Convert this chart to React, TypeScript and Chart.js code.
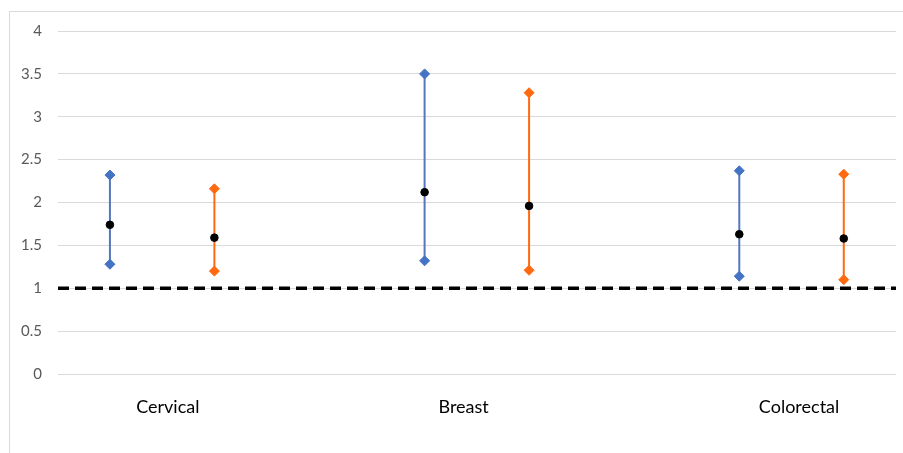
import React, { useEffect, useRef } from "react";
import { Chart, registerables } from "chart.js";

Chart.register(...registerables);

// ---- data ----
const categories = ["Cervical", "Breast", "Colorectal"];
const blueLow = [1.28, 1.32, 1.14];
const blueHigh = [2.32, 3.5, 2.37];
const blueMean = [1.74, 2.12, 1.63];
const orangeLow = [1.2, 1.21, 1.1];
const orangeHigh = [2.16, 3.28, 2.33];
const orangeMean = [1.59, 1.96, 1.58];
const referenceValue = 1;
const yMin = 0;
const yMax = 4;
const yStep = 0.5;

// ---- layout helpers (category-axis placement) ----
const seriesOffset = [-0.166, 0.166];
const labelPositions = [0.018, 0.958, 2.024];
const xMin = -0.331;
const xMax = 2.332;

const BLUE = "#4472C4";
const BLUE_LINE = "#5577BE";
const ORANGE = "#FF6A10";

function rangePoints(low: number[], high: number[], off: number) {
  return low.flatMap((l, i) => [
    { x: i + off, y: l },
    { x: i + off, y: high[i] },
    { x: i + off, y: null as any },
  ]);
}
function meanPoints(mean: number[], off: number) {
  return mean.map((m, i) => ({ x: i + off, y: m }));
}

export default function App() {
  const ref = useRef<HTMLCanvasElement>(null);
  useEffect(() => {
    if (!ref.current) return;
    const chart = new Chart(ref.current, {
      type: "scatter",
      data: {
        datasets: [
          {
            label: "mean",
            data: [...meanPoints(blueMean, seriesOffset[0]), ...meanPoints(orangeMean, seriesOffset[1])],
            showLine: false,
            pointStyle: "circle",
            pointRadius: 3.8,
            pointBackgroundColor: "#000",
            pointBorderColor: "#000",
            pointBorderWidth: 1,
            order: 0,
          },
          {
            label: "blue",
            data: rangePoints(blueLow, blueHigh, seriesOffset[0]),
            showLine: true,
            spanGaps: false,
            borderColor: BLUE_LINE,
            borderWidth: 2,
            pointStyle: "rectRot",
            pointRadius: 5,
            pointBackgroundColor: BLUE,
            pointBorderColor: BLUE,
            pointBorderWidth: 1,
            order: 1,
          },
          {
            label: "orange",
            data: rangePoints(orangeLow, orangeHigh, seriesOffset[1]),
            showLine: true,
            spanGaps: false,
            borderColor: ORANGE,
            borderWidth: 2,
            pointStyle: "rectRot",
            pointRadius: 5,
            pointBackgroundColor: ORANGE,
            pointBorderColor: ORANGE,
            pointBorderWidth: 1,
            order: 1,
          },
          {
            label: "reference",
            data: [
              { x: xMin, y: referenceValue },
              { x: xMax, y: referenceValue },
            ],
            showLine: true,
            borderColor: "#000",
            borderWidth: 3.5,
            borderDash: [11, 6],
            borderCapStyle: "butt",
            pointRadius: 0,
            order: 2,
          },
        ] as any,
      },
      options: {
        animation: false,
        responsive: false,
        layout: { padding: { top: 31, right: 7, left: 0, bottom: 0 } },
        plugins: { legend: { display: false }, tooltip: { enabled: false } },
        scales: {
          x: {
            type: "linear",
            min: xMin,
            max: xMax,
            grid: { display: false },
            border: { display: false },
            afterBuildTicks: (scale: any) => {
              scale.ticks = labelPositions.map((v) => ({ value: v }));
            },
            afterFit: (scale: any) => {
              scale.height = 79;
            },
            ticks: {
              autoSkip: false,
              maxRotation: 0,
              padding: 14,
              color: "#000",
              font: { family: "Lato", size: 18 },
              callback: (_v: any, i: number) => categories[i],
            },
          },
          y: {
            type: "linear",
            min: yMin,
            max: yMax,
            grid: { color: "#D9D9D9", lineWidth: 1, drawTicks: false },
            border: { display: false },
            afterFit: (scale: any) => {
              scale.width = 58;
            },
            ticks: {
              stepSize: yStep,
              padding: 16,
              color: "#595959",
              font: { family: "Lato", size: 15 },
              callback: (v: any) => String(Number(v)),
            },
          },
        },
      } as any,
    });
    return () => chart.destroy();
  }, []);

  return (
    <div style={{ position: "fixed", left: 0, top: 0, width: 903, height: 453, background: "#fff", overflow: "hidden" }}>
      <div
        style={{
          position: "absolute",
          left: 9,
          top: 11,
          width: 1000,
          height: 1000,
          borderLeft: "1px solid #D9D9D9",
          borderTop: "1px solid #D9D9D9",
        }}
      />
      <canvas ref={ref} width={903} height={453} style={{ position: "absolute", left: 0, top: 0 }} />
    </div>
  );
}
